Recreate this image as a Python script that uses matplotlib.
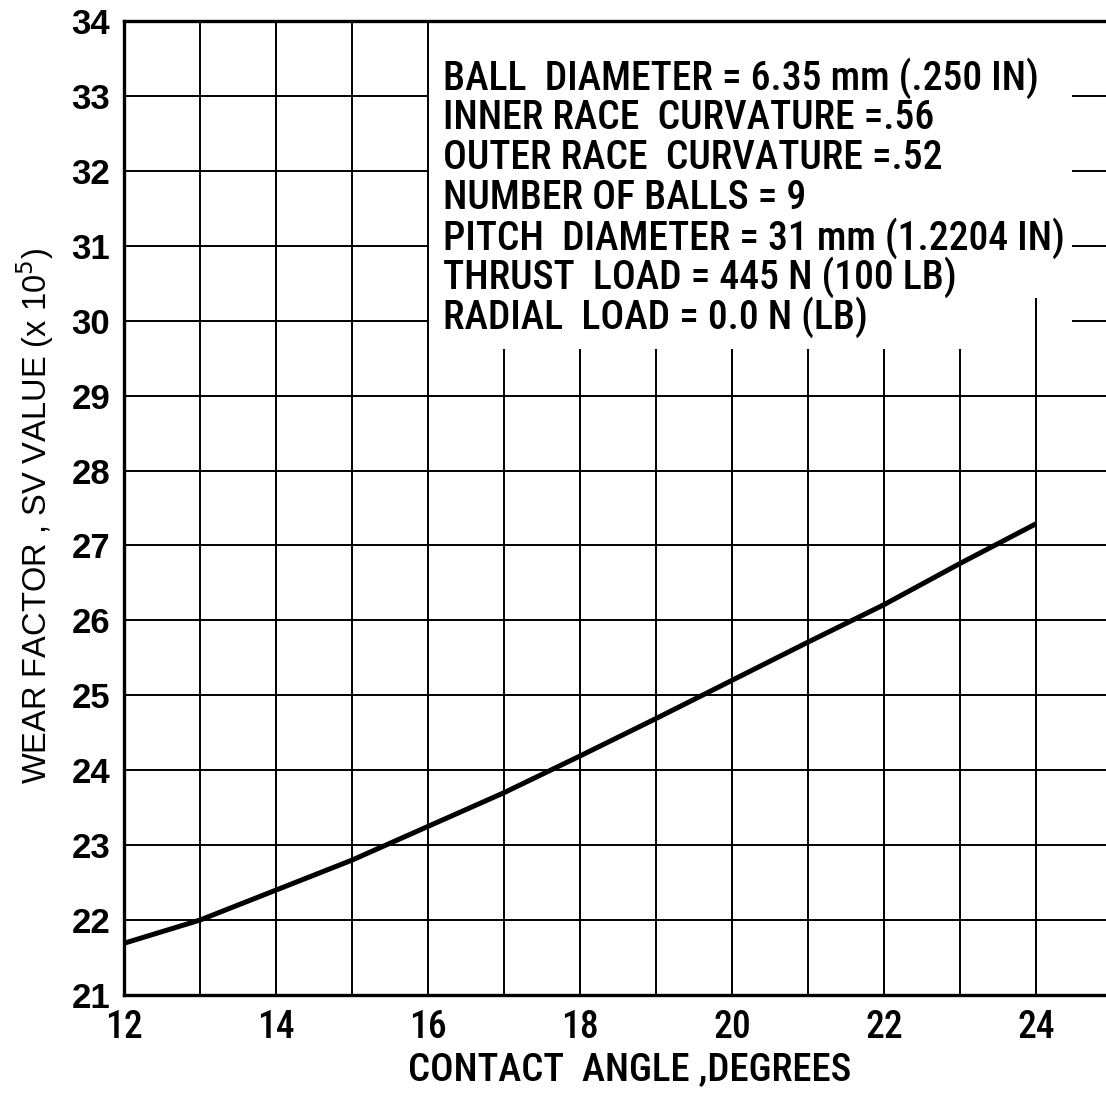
import matplotlib
matplotlib.use("Agg")
import matplotlib.pyplot as plt

# wear factor vs contact angle
contact_angle = [12, 13, 14, 15, 16, 17, 18, 19, 20, 21, 22, 23, 24]
sv_value = [21.69, 22.0, 22.4, 22.8, 23.25, 23.7, 24.19, 24.69, 25.2, 25.71, 26.21, 26.76, 27.29]

x_ticks = [12, 14, 16, 18, 20, 22, 24]
y_ticks = list(range(21, 35))

bearing_notes = [
    "BALL  DIAMETER = 6.35 mm (.250 IN)",
    "INNER RACE  CURVATURE =.56",
    "OUTER RACE  CURVATURE =.52",
    "NUMBER OF BALLS = 9",
    "PITCH  DIAMETER = 31 mm (1.2204 IN)",
    "THRUST  LOAD = 445 N (100 LB)",
    "RADIAL  LOAD = 0.0 N (LB)",
]

narrow = ["Roboto Condensed", "Liberation Sans Narrow", "Roboto", "DejaVu Sans"]
plain = ["Liberation Sans", "DejaVu Sans"]

fig = plt.figure(figsize=(11.06, 11.01), dpi=100)
ax = fig.add_axes([0.1121, 0.0963, 0.8879, 0.8846])
ax.set_xlim(12, 24.92)
ax.set_ylim(21, 34)

# grid drawn by hand so it can stop around the notes block
grid_kw = dict(color="black", lw=1.4, zorder=1)
for y in range(22, 34):
    if y <= 29:
        ax.hlines(y, 12, 24.92, **grid_kw)
    else:
        ax.hlines(y, 12, 16, **grid_kw)
        ax.hlines(y, 24.47, 24.92, **grid_kw)
for x in range(13, 25):
    if x <= 16:
        ax.vlines(x, 21, 34, **grid_kw)
    elif x == 24:
        ax.vlines(x, 21, 30.3, **grid_kw)
    else:
        ax.vlines(x, 21, 29.62, **grid_kw)

ax.plot(contact_angle, sv_value, color="black", lw=3.6, zorder=3,
        solid_capstyle="butt")

for s in ["left", "bottom", "top"]:
    ax.spines[s].set_linewidth(2.4)
ax.spines["right"].set_visible(False)

ax.set_xticks(x_ticks)
ax.set_yticks(y_ticks)
ax.tick_params(length=0, pad=10)
for lbl in ax.get_xticklabels():
    lbl.set_fontfamily(narrow)
    lbl.set_fontsize(27)
    lbl.set_fontweight("medium")
for lbl in ax.get_yticklabels():
    lbl.set_fontfamily(plain)
    lbl.set_fontsize(25)
    lbl.set_fontweight("bold")

ax.set_xlabel("CONTACT  ANGLE ,DEGREES", fontfamily=narrow, fontsize=28,
              fontweight="medium")
ax.xaxis.set_label_coords(0.515, -0.058)
ax.set_ylabel("WEAR FACTOR , SV VALUE (x 10$^5$)", fontfamily=plain, fontsize=23.5)
ax.yaxis.set_label_coords(-0.069, 0.492)

for i, note in enumerate(bearing_notes):
    ax.text(16.2, 33.24 - i * 0.533, note, fontfamily=narrow, fontsize=28.5,
            fontweight="medium", va="center", ha="left", zorder=4)

fig.savefig("out.png", dpi=100, facecolor="white")
